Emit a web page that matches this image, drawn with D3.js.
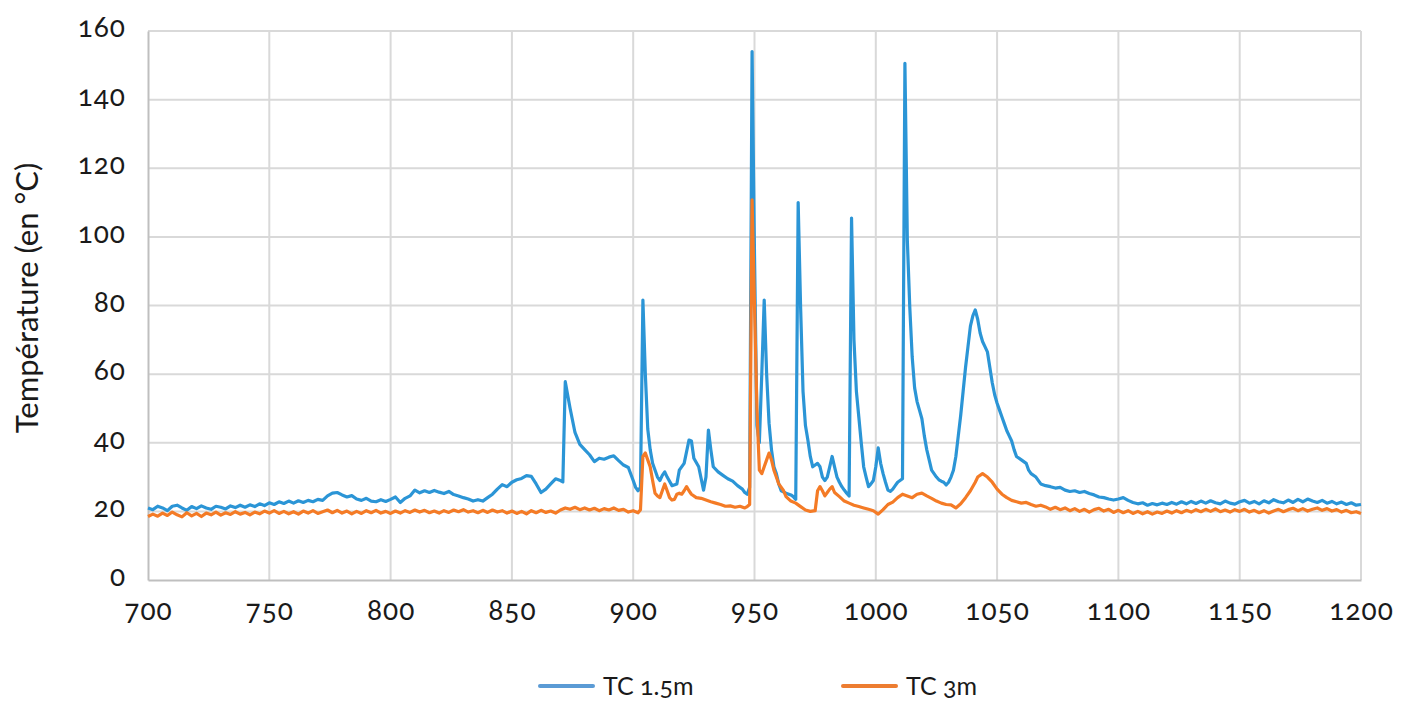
<!DOCTYPE html>
<html>
<head>
<meta charset="utf-8">
<script src="https://cdn.jsdelivr.net/npm/d3@7"></script>
<style>
html,body{margin:0;padding:0;background:#fff;}
svg text{font-family:Lato,"Open Sans",sans-serif;fill:#1a1a1a;font-feature-settings:"onum";font-variant-numeric:oldstyle-nums;}
</style>
</head>
<body>
<svg id="chart" width="1411" height="702"></svg>
<script>
// ---- data ----
const xTicks = [700,750,800,850,900,950,1000,1050,1100,1150,1200];
const yTicks = [0,20,40,60,80,100,120,140,160];
const seriesNames = ["TC 1.5m","TC 3m"];
const yTitle = "Température (en °C)";

// [time, temperature] readings, TC 1.5m
const tc15 = [
[700,21],[702,20.5],[704,21.5],[706,21],[708,20.2],[710,21.5],[712,21.8],[714,21],[716,20.3],[718,21.4],
[720,20.8],[722,21.6],[724,21],[726,20.6],[728,21.5],[730,21.2],[732,20.7],[734,21.6],[736,21.1],[738,21.8],
[740,21.2],[742,21.9],[744,21.4],[746,22.2],[748,21.7],[750,22.5],[752,22],[754,22.8],[756,22.3],[758,23],
[760,22.4],[762,23.1],[764,22.6],[766,23.2],[768,22.8],[770,23.5],[772,23.2],[774,24.5],[776,25.3],[778,25.5],
[780,24.8],[782,24.2],[784,24.6],[786,23.6],[788,23.2],[790,23.8],[792,23],[794,22.8],[796,23.4],[798,22.9],
[800,23.5],[802,24.2],[804,22.6],[806,23.8],[808,24.5],[810,26.2],[812,25.4],[814,26],[816,25.5],[818,26.1],
[820,25.6],[822,25.2],[824,25.8],[826,24.9],[828,24.5],[830,24],[832,23.6],[834,23],[836,23.4],[838,23],
[840,24],[842,25],[844,26.5],[846,27.8],[848,27.2],[850,28.5],[852,29.2],[854,29.6],[856,30.4],[858,30.2],
[860,28],[862,25.5],[864,26.5],[866,28],[868,29.5],[870,29],[871,28.6],[872,57.8],[874,50],[876,43],
[878,39.5],[880,38],[882,36.5],[884,34.5],[886,35.5],[888,35.2],[890,35.8],[892,36.2],[894,34.8],[896,33.5],
[898,32.8],[900,29],[901,27],[902,26],[903,27],[904,81.6],[905,60],[906,44],[907,38],[908,34],
[910,30],[911,29],[912,30.5],[913,31.5],[914,30],[916,27.5],[918,28],[919,32],[921,34],[923,40.8],
[924,40.5],[925,35.5],[927,33],[929,26.2],[930,30],[931,43.7],[932,38],[933,33],[935,31.5],[937,30.5],
[939,29.5],[941,28.8],[943,27.5],[945,26.5],[946,25.5],[947,25],[948,27],[949,154],[950,95],[951,45],
[952,40],[953,60],[954,81.6],[955,60],[956,45.7],[957,38],[958,33],[959,31],[960,28],[961,26],
[963,25.3],[965,24.8],[966,24.3],[967,23.5],[968,110],[969,79.6],[970,55],[971,45],[972,40.8],[973,36],
[974,33],[975,33.5],[976,34],[977,33],[978,30],[979,29],[980,30],[981,33],[982,36],[983,33],
[984,30],[985,28.5],[986,27.2],[987,26.2],[988,25.3],[989,24.5],[990,105.5],[991,70],[992,55],[993,47.5],
[994,40],[995,33],[996,30],[997,27.2],[998,28],[999,29],[1000,33],[1001,38.5],[1002,34],[1003,31],
[1004,28.5],[1005,26.2],[1006,25.8],[1007,26.5],[1008,27.5],[1009,28.5],[1010,29],[1011,29.5],[1012,150.6],[1013,99],
[1014,79.6],[1015,65],[1016,56],[1017,52],[1018,49.5],[1019,47],[1020,42],[1021,38],[1022,35],[1023,32],
[1024,31],[1025,30],[1026,29.2],[1027,28.8],[1028,28.5],[1029,27.7],[1030,28.5],[1031,30],[1032,32],[1033,36],
[1034,42],[1035,48],[1036,55],[1037,62],[1038,68],[1039,74],[1040,77],[1041,78.7],[1042,76],[1043,72],
[1044,69.5],[1045,68],[1046,66.5],[1047,62],[1048,57.5],[1049,54],[1050,51.5],[1051,49.5],[1052,47.5],[1053,45.5],
[1054,43.5],[1055,42],[1056,40.5],[1057,38],[1058,36],[1060,35],[1062,34],[1063,32],[1064,31],[1066,30],
[1068,28],[1070,27.5],[1072,27.2],[1074,26.8],[1076,27],[1078,26.2],[1080,25.8],[1082,26],[1084,25.5],[1086,25.8],
[1088,25.2],[1090,24.8],[1092,24.2],[1094,24],[1096,23.6],[1098,23.3],[1100,23.6],[1102,24],[1104,23.2],[1106,22.6],
[1108,22.2],[1110,22.5],[1112,21.8],[1114,22.3],[1116,21.9],[1118,22.4],[1120,22],[1122,22.6],[1124,22.1],[1126,22.8],
[1128,22.2],[1130,22.9],[1132,22.3],[1134,23],[1136,22.4],[1138,23.1],[1140,22.5],[1142,22.2],[1144,23],[1146,22.4],
[1148,22.1],[1150,22.8],[1152,23.2],[1154,22.4],[1156,22.9],[1158,22.2],[1160,23.1],[1162,22.5],[1164,23.4],[1166,22.8],
[1168,22.5],[1170,23.3],[1172,22.6],[1174,23.5],[1176,22.8],[1178,23.6],[1180,23],[1182,22.6],[1184,23.2],[1186,22.4],
[1188,22.9],[1190,22.2],[1192,22.7],[1194,22],[1196,22.5],[1198,21.8],[1200,22]
];

// [time, temperature] readings, TC 3m
const tc3 = [
[700,18.5],[702,19.2],[704,18.6],[706,19.5],[708,18.8],[710,19.8],[712,19],[714,18.4],[716,19.6],[718,18.7],
[720,19.4],[722,18.5],[724,19.5],[726,19],[728,19.8],[730,18.9],[732,19.6],[734,19.1],[736,19.9],[738,19.2],
[740,19.7],[742,19],[744,19.8],[746,19.3],[748,20.1],[750,19.5],[752,20.2],[754,19.4],[756,20],[758,19.3],
[760,19.9],[762,19.2],[764,20.1],[766,19.5],[768,20.2],[770,19.4],[772,19.9],[774,20.4],[776,19.6],[778,20.3],
[780,19.5],[782,20.1],[784,19.3],[786,20],[788,19.4],[790,20.2],[792,19.6],[794,20.3],[796,19.5],[798,20],
[800,19.4],[802,20.1],[804,19.5],[806,20.2],[808,19.7],[810,20.4],[812,19.8],[814,20.3],[816,19.6],[818,20.1],
[820,19.5],[822,20.2],[824,19.7],[826,20.4],[828,19.9],[830,20.5],[832,19.8],[834,20.2],[836,19.6],[838,20.3],
[840,19.7],[842,20.4],[844,19.8],[846,20.2],[848,19.5],[850,20.1],[852,19.4],[854,20],[856,19.3],[858,20.2],
[860,19.6],[862,20.3],[864,19.7],[866,20.1],[868,19.5],[870,20.4],[872,21],[874,20.6],[876,21.2],[878,20.5],
[880,21],[882,20.4],[884,20.9],[886,20.2],[888,20.8],[890,20.4],[892,21],[894,20.3],[896,20.6],[898,19.8],
[900,20.2],[902,19.6],[903,20.5],[904,36],[905,37],[906,35],[907,33],[908,29],[909,25.3],[910,24.5],
[911,24],[912,26],[913,28],[914,26],[915,24],[916,23.3],[917,23.5],[918,25],[919,25.3],[920,25],
[921,26],[922,27.2],[923,26],[924,25],[926,24],[928,23.8],[930,23.3],[932,22.8],[934,22.4],[936,22],
[938,21.5],[940,21.6],[942,21.2],[944,21.5],[946,21],[947,21.4],[948,22],[949,110.8],[950,80],[951,50],
[952,32],[953,31],[954,33],[955,35],[956,37],[957,35],[958,32],[959,30],[960,28],[962,26],
[963,24.3],[965,23],[967,22.4],[969,21.4],[971,20.4],[973,20],[975,20.2],[976,26],[977,27.2],[978,26],
[979,24.5],[980,25.5],[981,26.5],[982,27.2],[983,25.5],[985,24.3],[987,23],[989,22.4],[991,21.8],[993,21.4],
[995,21],[997,20.6],[999,20.2],[1001,19.2],[1003,20.5],[1005,22],[1007,22.7],[1009,24],[1011,25],[1013,24.5],
[1015,24],[1017,25],[1019,25.3],[1021,24.5],[1023,23.8],[1025,23],[1027,22.4],[1029,22],[1031,21.9],[1033,21],
[1035,22.2],[1037,24],[1039,26],[1041,28.5],[1042,30],[1044,31],[1046,30],[1048,28.5],[1050,26.5],[1052,25],
[1054,24],[1056,23.2],[1058,22.8],[1060,22.4],[1062,22.6],[1064,22],[1066,21.5],[1068,21.8],[1070,21.3],[1072,20.6],
[1074,21.2],[1076,20.5],[1078,21],[1080,20.2],[1082,20.8],[1084,20],[1086,20.6],[1088,19.8],[1090,20.5],[1092,20.9],
[1094,20.1],[1096,20.6],[1098,19.7],[1100,20.3],[1102,19.6],[1104,20.2],[1106,19.4],[1108,20],[1110,19.3],[1112,19.9],
[1114,19.2],[1116,19.8],[1118,19.4],[1120,20.1],[1122,19.5],[1124,20.2],[1126,19.6],[1128,20.3],[1130,19.8],[1132,20.5],
[1134,19.9],[1136,20.6],[1138,20],[1140,20.7],[1142,19.9],[1144,20.4],[1146,19.8],[1148,20.5],[1150,20],[1152,20.6],
[1154,19.8],[1156,20.3],[1158,19.6],[1160,20.2],[1162,19.5],[1164,20.1],[1166,20.6],[1168,19.9],[1170,20.5],[1172,20.9],
[1174,20.2],[1176,20.8],[1178,20.1],[1180,20.6],[1182,21],[1184,20.3],[1186,20.8],[1188,20.1],[1190,20.5],[1192,19.8],
[1194,20.3],[1196,19.6],[1198,19.9],[1200,19.4]
];

// ---- chart ----
const W = 1411, H = 702;
const m = {left:148, right:W-1361, top:31, bottom:H-580};
const svg = d3.select("#chart");
const x = d3.scaleLinear().domain([700,1200]).range([m.left, W-m.right]);
const y = d3.scaleLinear().domain([0,160]).range([H-m.bottom, m.top]);

const grid = svg.append("g");
grid.selectAll("line.h").data(yTicks.filter(d=>d>0)).join("line")
  .attr("x1",x(700)).attr("x2",x(1200)).attr("y1",d=>y(d)).attr("y2",d=>y(d))
  .attr("stroke","#d9d9d9").attr("stroke-width",2);
grid.selectAll("line.v").data(xTicks.filter(d=>d>700)).join("line")
  .attr("y1",y(0)).attr("y2",y(160)).attr("x1",d=>x(d)).attr("x2",d=>x(d))
  .attr("stroke","#d9d9d9").attr("stroke-width",2);

// axes
const yAxis = svg.append("g").attr("transform",`translate(${m.left},0)`)
  .call(d3.axisLeft(y).tickValues(yTicks).tickSize(0).tickPadding(22));
const xAxis = svg.append("g").attr("transform",`translate(0,${y(0)})`)
  .call(d3.axisBottom(x).tickValues(xTicks).tickSize(0).tickPadding(20).tickFormat(d3.format("d")));
[yAxis,xAxis].forEach(a=>{
  a.select(".domain").attr("stroke","#bfbfbf").attr("stroke-width",2);
  a.selectAll("text").attr("font-size",28).attr("letter-spacing",1).attr("fill","#1a1a1a");
});
yAxis.selectAll("text").attr("dy","0.2em");

svg.append("text").attr("transform",`translate(38,298) rotate(-90)`)
  .attr("text-anchor","middle").attr("font-size",31).text(yTitle);

// lines
const line = d3.line().x(d=>x(d[0])).y(d=>y(d[1]));
svg.append("path").datum(tc15).attr("d",line).attr("fill","none")
  .attr("stroke","#2b95d6").attr("stroke-width",3.2).attr("stroke-linejoin","round");
svg.append("path").datum(tc3).attr("d",line).attr("fill","none")
  .attr("stroke","#f47b26").attr("stroke-width",3.2).attr("stroke-linejoin","round");

// legend
const legend = [{name:seriesNames[0],color:"#5b9bd5",x0:540},{name:seriesNames[1],color:"#ed7d31",x0:843}];
const lg = svg.append("g").selectAll("g").data(legend).join("g");
lg.append("line").attr("x1",d=>d.x0).attr("x2",d=>d.x0+53).attr("y1",686).attr("y2",686)
  .attr("stroke",d=>d.color).attr("stroke-width",4).attr("stroke-linecap","round");
lg.append("text").attr("x",d=>d.x0+63).attr("y",695).attr("font-size",25).text(d=>d.name);
</script>
</body>
</html>
